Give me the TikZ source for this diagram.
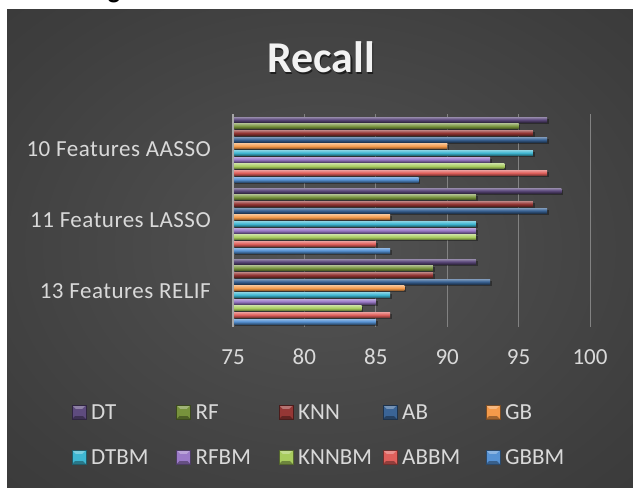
\documentclass[tikz,border=0pt]{standalone}
\usepackage{fontspec}
\setmainfont{Carlito}
\newfontfamily\catfont[LetterSpace=2.2]{Carlito}
\usetikzlibrary{calc}

% series colours
\definecolor{ser0}{HTML}{5E4B7E}% DT
\definecolor{ser1}{HTML}{77923C}% RF
\definecolor{ser2}{HTML}{953735}% KNN
\definecolor{ser3}{HTML}{3A6496}% AB
\definecolor{ser4}{HTML}{F49A4A}% GB
\definecolor{ser5}{HTML}{3FB7D2}% DTBM
\definecolor{ser6}{HTML}{9B7AC8}% RFBM
\definecolor{ser7}{HTML}{A8CC5E}% KNNBM
\definecolor{ser8}{HTML}{E0605C}% ABBM
\definecolor{ser9}{HTML}{5692D4}% GBBM
\definecolor{bgin}{HTML}{535353}
\definecolor{bgmid}{HTML}{3E3E3E}
\definecolor{bgout}{HTML}{262626}
\definecolor{labeltext}{HTML}{D9D9D9}
\definecolor{titletext}{HTML}{F2F2F2}

\pgfdeclareradialshading{bgglow}{\pgfpoint{0bp}{0bp}}{%
  color(0bp)=(bgin); color(30bp)=(bgmid); color(72bp)=(bgout)}

\tikzset{
  chartfont/.style={font=\fontsize{23}{27}\selectfont, text=labeltext, inner sep=0pt},
  catlabel/.style={font=\catfont\fontsize{23}{27}\selectfont, text=labeltext, inner sep=0pt, anchor=east},
  ticklabel/.style={chartfont, anchor=center},
  legendlabel/.style={chartfont, anchor=west},
  titlefont/.style={font=\fontsize{44}{50}\selectfont\bfseries, inner sep=0pt},
  gridline/.style={draw=white!35!bgmid, line width=1pt},
  axisline/.style={draw=white!65!black, line width=1.6pt},
  barshadow/.style={fill=black, opacity=0.35},
}

\begin{document}
\begin{tikzpicture}[x=1pt, y=-1pt]
\useasboundingbox (0,0) rectangle (633,488);
\fill[white] (0,0) rectangle (633,488);

% descender of the caption line that sits above the chart
\begin{scope}
  \clip (0,0) rectangle (633,9);
  \node[anchor=base, inner sep=0pt, font=\fontsize{26}{30}\selectfont\bfseries, text=black] (capfrag) at (114,-2) {g};
\end{scope}

% chart background
\path[shading=bgglow] (7,9) rectangle (633,488);

% title with soft shadow
\node[titlefont, text=black, opacity=0.55] (titleshadow) at (322.5,59) {Recall};
\node[titlefont, text=titletext] (title) at (321,57) {Recall};

% vertical gridlines (80 ... 100)
\foreach \k in {1,...,5}
  \draw[gridline] ({233+71.4*\k},114) -- ({233+71.4*\k},327);

% bars: each category holds DT, RF, KNN, AB, GB, DTBM, RFBM, KNNBM, ABBM, GBBM from top to bottom
\foreach \ci/\vals in {0/{97,95,96,97,90,96,93,94,97,88},
                       1/{98,92,96,97,86,92,92,92,85,86},
                       2/{92,89,89,93,87,86,85,84,86,85}} {
  \foreach \v [count=\j from 0] in \vals {
    \pgfmathsetmacro\yc{114+71*\ci+5.5+6.667*\j}
    \pgfmathsetmacro\xe{233+(\v-75)*14.28}
    \fill[barshadow] (234.5,\yc-1) rectangle (\xe+1.8,\yc+4);
    \shade[top color=ser\j!65!white, bottom color=ser\j!55!black, middle color=ser\j]
      (233,\yc-2.5) rectangle (\xe,\yc+2.5);
  }
}

% value axis line at 75
\draw[axisline] (233,114) -- (233,327);

% category labels
\node[catlabel] (catA) at (211,149.5) {10 Features AASSO};
\node[catlabel] (catB) at (211,220.5) {11 Features LASSO};
\node[catlabel] (catC) at (211,291.5) {13 Features RELIF};

% tick labels
\foreach \k in {0,...,5} {
  \pgfmathtruncatemacro\tv{75+5*\k}
  \node[ticklabel] (tick\k) at ({233+71.4*\k},357) {\tv};
}

% legend
\foreach \lx/\lname/\li/\ly in {72/DT/0/412, 176.5/RF/1/412, 279/KNN/2/412, 383/AB/3/412, 486/GB/4/412,
                                72/DTBM/5/457, 176.5/RFBM/6/457, 279/KNNBM/7/457, 383/ABBM/8/457, 486/GBBM/9/457} {
  \fill[ser\li] (\lx,\ly-7) rectangle (\lx+14,\ly+7);
  \fill[ser\li!70!white] (\lx,\ly-7) -- (\lx+14,\ly-7) -- (\lx+7,\ly) -- cycle;
  \fill[ser\li!65!black] (\lx,\ly+7) -- (\lx+14,\ly+7) -- (\lx+7,\ly) -- cycle;
  \fill[ser\li] (\lx+3,\ly-3) rectangle (\lx+11,\ly+4);
  \draw[ser\li!50!black, line width=0.6pt] (\lx,\ly-7) rectangle (\lx+14,\ly+7);
  \node[legendlabel] (leg\li) at (\lx+19,\ly) {\lname};
}
\end{tikzpicture}
\end{document}
